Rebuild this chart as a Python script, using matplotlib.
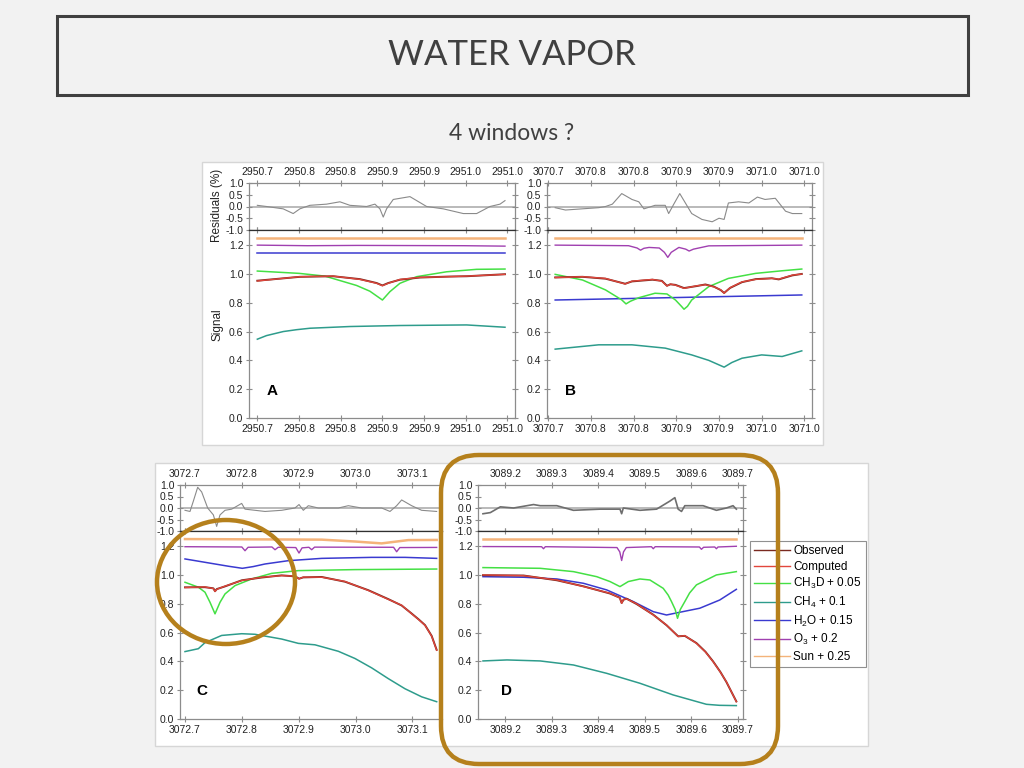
import matplotlib
matplotlib.use('Agg')
import matplotlib.pyplot as plt
from matplotlib.patches import Rectangle, Ellipse, FancyBboxPatch
from matplotlib.ticker import FixedLocator, FixedFormatter, FormatStrFormatter

plt.rcParams['font.family'] = ['Liberation Sans', 'DejaVu Sans']
plt.rcParams['mathtext.fontset'] = 'custom'
plt.rcParams['mathtext.rm'] = 'Liberation Sans'
plt.rcParams['axes.unicode_minus'] = False

# ---------------- 数据 ----------------
# 窗口 A
A_TICKS = [2950.70, 2950.75, 2950.80, 2950.85, 2950.90, 2950.95, 2951.00]
A_LABELS = ['2950.7', '2950.8', '2950.8', '2950.9', '2950.9', '2951.0', '2951.0']
A_X_SUN = [2950.700, 2950.997]
A_SUN = [1.250, 1.250]
A_X_O3 = [2950.700, 2950.760, 2950.820, 2950.948, 2950.997]
A_O3 = [1.200, 1.196, 1.198, 1.196, 1.193]
A_X_H2O = [2950.700, 2950.997]
A_H2O = [1.142, 1.142]
A_X_CH3D = [2950.700, 2950.750, 2950.781, 2950.819, 2950.835, 2950.850, 2950.859,
            2950.871, 2950.891, 2950.927, 2950.963, 2950.997]
A_CH3D = [1.020, 1.004, 0.985, 0.920, 0.880, 0.819, 0.877, 0.935, 0.981, 1.015, 1.032, 1.034]
A_X_CH4 = [2950.700, 2950.711, 2950.731, 2950.747, 2950.763, 2950.811, 2950.871, 2950.951, 2950.997]
A_CH4 = [0.547, 0.572, 0.600, 0.613, 0.623, 0.635, 0.642, 0.646, 0.630]
A_X_CMP = [2950.700, 2950.751, 2950.791, 2950.823, 2950.843, 2950.850, 2950.857,
           2950.871, 2950.895, 2950.931, 2950.951, 2950.997]
A_CMP = [0.951, 0.981, 0.985, 0.962, 0.935, 0.918, 0.935, 0.962, 0.976, 0.981, 0.985, 0.997]
A_OBS = [0.953, 0.980, 0.984, 0.964, 0.937, 0.920, 0.937, 0.960, 0.975, 0.982, 0.984, 0.998]
A_X_RES = [2950.700, 2950.711, 2950.731, 2950.743, 2950.751, 2950.763, 2950.783, 2950.799,
           2950.811, 2950.831, 2950.841, 2950.847, 2950.851, 2950.855, 2950.863, 2950.883,
           2950.903, 2950.923, 2950.947, 2950.963, 2950.979, 2950.991, 2950.997]
A_RES = [0.05, 0.0, -0.1, -0.3, -0.1, 0.05, 0.1, 0.2, 0.05, 0.0, 0.1, -0.1, -0.45, -0.1,
         0.3, 0.42, 0.0, -0.1, -0.3, -0.3, 0.0, 0.1, 0.25]

# 窗口 B
B_TICKS = [3070.70, 3070.75, 3070.80, 3070.85, 3070.90, 3070.95, 3071.00]
B_LABELS = ['3070.7', '3070.8', '3070.8', '3070.9', '3070.9', '3071.0', '3071.0']
B_X_SUN = [3070.708, 3070.997]
B_SUN = [1.250, 1.250]
B_X_O3 = [3070.708, 3070.794, 3070.804, 3070.808, 3070.812, 3070.818, 3070.830, 3070.836,
          3070.840, 3070.844, 3070.853, 3070.861, 3070.865, 3070.870, 3070.888, 3070.997]
B_O3 = [1.200, 1.196, 1.180, 1.165, 1.178, 1.184, 1.180, 1.150, 1.115, 1.150, 1.184,
        1.172, 1.159, 1.172, 1.195, 1.200]
B_X_H2O = [3070.708, 3070.997]
B_H2O = [0.819, 0.854]
B_X_CH3D = [3070.708, 3070.740, 3070.767, 3070.786, 3070.791, 3070.796, 3070.806, 3070.825,
            3070.839, 3070.849, 3070.856, 3070.859, 3070.863, 3070.868, 3070.888, 3070.911,
            3070.943, 3070.974, 3070.997]
B_CH3D = [0.997, 0.958, 0.889, 0.820, 0.792, 0.810, 0.835, 0.866, 0.861, 0.819, 0.775,
          0.755, 0.775, 0.819, 0.912, 0.969, 1.004, 1.022, 1.034]
B_X_CH4 = [3070.708, 3070.759, 3070.798, 3070.837, 3070.868, 3070.888, 3070.906, 3070.915,
           3070.927, 3070.950, 3070.974, 3070.997]
B_CH4 = [0.478, 0.508, 0.508, 0.485, 0.438, 0.400, 0.353, 0.385, 0.415, 0.438, 0.427, 0.466]
B_X_CMP = [3070.708, 3070.740, 3070.767, 3070.790, 3070.798, 3070.822, 3070.833, 3070.839,
           3070.843, 3070.849, 3070.859, 3070.874, 3070.884, 3070.894, 3070.902, 3070.906,
           3070.913, 3070.927, 3070.943, 3070.962, 3070.970, 3070.986, 3070.997]
B_CMP = [0.974, 0.981, 0.969, 0.930, 0.950, 0.962, 0.950, 0.916, 0.930, 0.922, 0.900, 0.918,
         0.925, 0.910, 0.890, 0.866, 0.905, 0.945, 0.962, 0.969, 0.964, 0.992, 0.999]
B_OBS = [0.976, 0.980, 0.967, 0.932, 0.948, 0.960, 0.952, 0.918, 0.928, 0.924, 0.902, 0.916,
         0.927, 0.912, 0.888, 0.868, 0.903, 0.943, 0.964, 0.970, 0.962, 0.990, 1.000]
B_X_RES = [3070.708, 3070.720, 3070.759, 3070.767, 3070.775, 3070.786, 3070.798, 3070.806,
           3070.812, 3070.825, 3070.837, 3070.841, 3070.847, 3070.854, 3070.868, 3070.880,
           3070.892, 3070.900, 3070.906, 3070.911, 3070.923, 3070.935, 3070.945, 3070.954,
           3070.966, 3070.978, 3070.986, 3070.997]
B_RES = [-0.05, -0.15, -0.05, 0.0, 0.1, 0.55, 0.3, 0.2, -0.1, 0.05, 0.05, -0.3, 0.1, 0.55,
         -0.3, -0.55, -0.65, -0.5, -0.55, 0.15, 0.2, 0.15, 0.4, 0.3, 0.35, -0.2, -0.3, -0.3]

# 窗口 C
C_TICKS = [3072.7, 3072.8, 3072.9, 3073.0, 3073.1]
C_LABELS = ['3072.7', '3072.8', '3072.9', '3073.0', '3073.1']
C_X_SUN = [3072.700, 3072.9405, 3072.9991, 3073.0460, 3073.0930, 3073.1428]
C_SUN = [1.249, 1.245, 1.232, 1.219, 1.242, 1.243]
C_X_O3 = [3072.700, 3072.800, 3072.8056, 3072.811, 3072.853, 3072.8584, 3072.864, 3072.895,
          3072.9006, 3072.906, 3072.918, 3072.9229, 3072.928, 3073.067, 3073.0724, 3073.078,
          3073.1428]
C_O3 = [1.196, 1.194, 1.168, 1.192, 1.194, 1.175, 1.192, 1.190, 1.152, 1.188, 1.192, 1.175,
        1.193, 1.192, 1.161, 1.190, 1.191]
C_X_H2O = [3072.700, 3072.7528, 3072.777, 3072.8009, 3072.820, 3072.8408, 3072.8818,
           3072.9405, 3073.0284, 3073.0871, 3073.1428]
C_H2O = [1.111, 1.076, 1.060, 1.046, 1.058, 1.076, 1.099, 1.115, 1.122, 1.122, 1.115]
C_X_CH3D = [3072.700, 3072.7235, 3072.7352, 3072.7440, 3072.7528, 3072.7616, 3072.7704,
            3072.7880, 3072.8173, 3072.8525, 3072.8994, 3072.9991, 3073.1428]
C_CH3D = [0.949, 0.915, 0.880, 0.810, 0.730, 0.810, 0.868, 0.926, 0.972, 1.011, 1.030, 1.037, 1.041]
C_X_CH4 = [3072.700, 3072.7235, 3072.7352, 3072.7645, 3072.7997, 3072.8232, 3072.8701,
           3072.8994, 3072.9287, 3072.9698, 3072.9991, 3073.0284, 3073.0578, 3073.0871,
           3073.1164, 3073.1428]
C_CH4 = [0.468, 0.488, 0.530, 0.580, 0.592, 0.588, 0.555, 0.525, 0.515, 0.470, 0.420, 0.355,
         0.280, 0.210, 0.154, 0.120]
C_X_CMP = [3072.700, 3072.735, 3072.750, 3072.7528, 3072.756, 3072.770, 3072.800, 3072.835,
           3072.870, 3072.894, 3072.9006, 3072.908, 3072.9405, 3072.9815, 3073.0226, 3073.0578,
           3073.0812, 3073.0988, 3073.1110, 3073.1223, 3073.1340, 3073.1428]
C_CMP = [0.912, 0.917, 0.905, 0.885, 0.900, 0.922, 0.961, 0.984, 0.995, 0.992, 0.972, 0.985,
         0.984, 0.955, 0.892, 0.830, 0.790, 0.730, 0.690, 0.650, 0.575, 0.477]
C_OBS = [0.914, 0.915, 0.907, 0.887, 0.902, 0.920, 0.963, 0.982, 0.997, 0.990, 0.974, 0.983,
         0.986, 0.953, 0.894, 0.832, 0.788, 0.732, 0.692, 0.652, 0.577, 0.480]
C_X_RES = [3072.700, 3072.7088, 3072.7147, 3072.7223, 3072.7293, 3072.7399, 3072.7499,
           3072.7557, 3072.7616, 3072.7704, 3072.7821, 3072.7997, 3072.8056, 3072.8232,
           3072.8408, 3072.8701, 3072.8935, 3072.9006, 3072.9082, 3072.9170, 3072.9346,
           3072.9698, 3072.9874, 3073.0108, 3073.0460, 3073.0607, 3073.0724, 3073.0812,
           3073.0988, 3073.1164, 3073.1428]
C_RES = [-0.1, -0.15, 0.3, 0.9, 0.7, 0.0, -0.3, -0.8, -0.3, -0.1, -0.05, 0.2, -0.05, -0.1,
         -0.15, -0.1, 0.0, 0.15, -0.1, 0.1, 0.0, 0.0, 0.1, 0.0, 0.0, -0.15, 0.1, 0.35, 0.1,
         -0.1, -0.15]

# 窗口 D
D_TICKS = [3089.2, 3089.3, 3089.4, 3089.5, 3089.6, 3089.7]
D_LABELS = ['3089.2', '3089.3', '3089.4', '3089.5', '3089.6', '3089.7']
D_X_SUN = [3089.1521, 3089.6964]
D_SUN = [1.250, 1.250]
D_X_O3 = [3089.1521, 3089.2780, 3089.2821, 3089.2860, 3089.4400, 3089.4460, 3089.4500,
          3089.4540, 3089.4600, 3089.5140, 3089.5179, 3089.5220, 3089.6170, 3089.6214,
          3089.6260, 3089.6500, 3089.6536, 3089.6570, 3089.6964]
D_O3 = [1.197, 1.196, 1.182, 1.196, 1.190, 1.160, 1.100, 1.160, 1.190, 1.196, 1.182, 1.196,
        1.194, 1.178, 1.192, 1.194, 1.182, 1.194, 1.199]
D_X_CH3D = [3089.1521, 3089.2750, 3089.3464, 3089.3964, 3089.4250, 3089.4464, 3089.4643,
            3089.4893, 3089.5107, 3089.5393, 3089.5500, 3089.5571, 3089.5650, 3089.5700,
            3089.5760, 3089.5857, 3089.5960, 3089.6107, 3089.6536, 3089.6964]
D_CH3D = [1.051, 1.046, 1.023, 0.988, 0.954, 0.919, 0.954, 0.972, 0.965, 0.907, 0.860, 0.815,
          0.760, 0.699, 0.760, 0.815, 0.875, 0.931, 1.000, 1.023]
D_X_H2O = [3089.1521, 3089.2393, 3089.3107, 3089.3679, 3089.4179, 3089.4750, 3089.5179,
           3089.5464, 3089.5750, 3089.6179, 3089.6607, 3089.6964]
D_H2O = [0.988, 0.984, 0.972, 0.942, 0.896, 0.815, 0.745, 0.722, 0.741, 0.769, 0.826, 0.900]
D_X_CH4 = [3089.1521, 3089.2036, 3089.2750, 3089.3464, 3089.4179, 3089.4893, 3089.5607,
           3089.6321, 3089.6600, 3089.6964]
D_CH4 = [0.403, 0.410, 0.403, 0.375, 0.317, 0.248, 0.167, 0.102, 0.095, 0.093]
D_X_CMP = [3089.1521, 3089.2393, 3089.3107, 3089.3679, 3089.4250, 3089.4460, 3089.4500,
           3089.4540, 3089.4607, 3089.4821, 3089.5179, 3089.5464, 3089.5714, 3089.5857,
           3089.6107, 3089.6300, 3089.6464, 3089.6620, 3089.6750, 3089.6964]
D_CMP = [1.000, 0.995, 0.965, 0.919, 0.873, 0.840, 0.803, 0.830, 0.833, 0.800, 0.722, 0.653,
         0.572, 0.579, 0.525, 0.465, 0.398, 0.325, 0.259, 0.120]
D_OBS = [0.998, 0.996, 0.963, 0.921, 0.871, 0.842, 0.805, 0.828, 0.835, 0.798, 0.724, 0.651,
         0.574, 0.577, 0.527, 0.467, 0.400, 0.327, 0.257, 0.122]
D_X_RES = [3089.1521, 3089.1679, 3089.1893, 3089.2179, 3089.2464, 3089.2607, 3089.2750,
           3089.3107, 3089.3464, 3089.4036, 3089.4464, 3089.4500, 3089.4536, 3089.4893,
           3089.5250, 3089.5536, 3089.5643, 3089.5714, 3089.5786, 3089.5857, 3089.6250,
           3089.6536, 3089.6750, 3089.6893, 3089.6964]
D_RES = [-0.25, -0.2, 0.05, 0.0, 0.1, 0.15, 0.1, 0.1, -0.1, -0.05, -0.05, -0.25, 0.0, -0.1,
         -0.05, 0.3, 0.45, -0.05, -0.15, 0.1, 0.1, -0.1, 0.0, 0.1, -0.05]

LEGEND_LABELS = ['Observed', 'Computed', r'CH$_3$D + 0.05', r'CH$_4$ + 0.1',
                 r'H$_2$O + 0.15', r'O$_3$ + 0.2', 'Sun + 0.25']

# ---------------- 样式 ----------------
W, H = 1024, 768
BG = '#f2f2f2'
GOLD = '#b5801c'
SPINE = '#8c8c8c'
C_SUN_LINE = '#f4b37a'
C_O3_LINE = '#a040b0'
C_H2O_LINE = '#3a3ad0'
C_CH3D_LINE = '#44e044'
C_CH4_LINE = '#2e9c8c'
C_OBS_LINE = '#7a2a20'
C_CMP_LINE = '#e2463c'

fig = plt.figure(figsize=(W / 100, H / 100), dpi=100, facecolor=BG)


def px_box(l, t, r, b):
    return [l / W, 1 - b / H, (r - l) / W, (b - t) / H]


def style_axes(ax, xlim, ticks, labels, top_labels):
    ax.set_xlim(xlim)
    ax.xaxis.set_major_locator(FixedLocator(ticks))
    ax.xaxis.set_major_formatter(FixedFormatter(labels))
    ax.yaxis.set_major_formatter(FormatStrFormatter('%.1f'))
    ax.tick_params(direction='inout', length=5, width=0.8, color=SPINE, labelsize=7.5,
                   labelcolor='#222222', pad=1.5, top=True, right=True,
                   labeltop=top_labels, labelbottom=not top_labels)
    for sp in ax.spines.values():
        sp.set_color(SPINE)
        sp.set_linewidth(0.9)


def draw_panel(left, right, top, split, bottom, xlim, ticks, labels, series, res_x, res_y,
               res_color='#8a8a8a', res_lw=0.8, open_right=False):
    ax_r = fig.add_axes(px_box(left, top, right, split))
    ax_s = fig.add_axes(px_box(left, split, right, bottom))
    style_axes(ax_r, xlim, ticks, labels, True)
    style_axes(ax_s, xlim, ticks, labels, False)

    ax_r.set_ylim(-1.0, 1.0)
    ax_r.set_yticks([-1.0, -0.5, 0.0, 0.5, 1.0])
    ax_r.axhline(0.0, color='#b4b4b4', lw=1.3, zorder=1)
    ax_r.plot(res_x, res_y, color=res_color, lw=res_lw, zorder=2)
    ax_r.spines['bottom'].set_color('#303030')

    ax_s.set_ylim(0.0, 1.305)
    ax_s.set_yticks([0.0, 0.2, 0.4, 0.6, 0.8, 1.0, 1.2])
    ax_s.spines['top'].set_color('#303030')

    handles = []
    for x, y, color, lw in series:
        ln, = ax_s.plot(x, y, color=color, lw=lw)
        handles.append(ln)

    if open_right:
        for ax in (ax_r, ax_s):
            ax.spines['right'].set_visible(False)
            ax.tick_params(right=False)
    return handles


def panel_series(xs, obs, xc, cmp_, x3, ch3d, x4, ch4, xh, h2o, xo, o3, xsun, sun):
    # 绘制顺序: Sun, O3, H2O, CH3D, CH4, Observed, Computed
    return [(xsun, sun, C_SUN_LINE, 1.8),
            (xo, o3, C_O3_LINE, 1.0),
            (xh, h2o, C_H2O_LINE, 1.1),
            (x3, ch3d, C_CH3D_LINE, 1.1),
            (x4, ch4, C_CH4_LINE, 1.1),
            (xs, obs, C_OBS_LINE, 1.4),
            (xc, cmp_, C_CMP_LINE, 0.9)]


# 幻灯片标题
fig.patches.append(Rectangle((57 / W, 1 - 95 / H), (968 - 57) / W, (95 - 16) / H,
                             transform=fig.transFigure, fill=False, ec='#404040', lw=2.2))
fig.text(512 / W, 1 - 55 / H, 'WATER VAPOR', ha='center', va='center', fontsize=25,
         family=['Lato', 'DejaVu Sans'], color='#404040')
fig.text(512 / W, 1 - 134 / H, '4 windows ?', ha='center', va='center', fontsize=16.5,
         family=['Lato', 'DejaVu Sans'], color='#404040')

# 图片背景
fig.patches.append(Rectangle((202 / W, 1 - 445 / H), (823 - 202) / W, (445 - 162) / H,
                             transform=fig.transFigure, fc='white', ec='#d6d6d6', lw=1, zorder=-1))
fig.patches.append(Rectangle((155 / W, 1 - 746 / H), (868 - 155) / W, (746 - 463) / H,
                             transform=fig.transFigure, fc='white', ec='#d6d6d6', lw=1, zorder=-1))

# 四个窗口
draw_panel(249, 515, 183, 230, 418, (2950.690, 2951.009), A_TICKS, A_LABELS,
           panel_series(A_X_CMP, A_OBS, A_X_CMP, A_CMP, A_X_CH3D, A_CH3D, A_X_CH4, A_CH4,
                        A_X_H2O, A_H2O, A_X_O3, A_O3, A_X_SUN, A_SUN),
           A_X_RES, A_RES)
draw_panel(547, 812, 183, 230, 418, (3070.6984, 3071.009), B_TICKS, B_LABELS,
           panel_series(B_X_CMP, B_OBS, B_X_CMP, B_CMP, B_X_CH3D, B_CH3D, B_X_CH4, B_CH4,
                        B_X_H2O, B_H2O, B_X_O3, B_O3, B_X_SUN, B_SUN),
           B_X_RES, B_RES)
draw_panel(180, 442, 485, 531, 719, (3072.6912, 3073.1522), C_TICKS, C_LABELS,
           panel_series(C_X_CMP, C_OBS, C_X_CMP, C_CMP, C_X_CH3D, C_CH3D, C_X_CH4, C_CH4,
                        C_X_H2O, C_H2O, C_X_O3, C_O3, C_X_SUN, C_SUN),
           C_X_RES, C_RES, open_right=True)
d_handles = draw_panel(478, 743, 485, 531, 719, (3089.1414, 3089.7107), D_TICKS, D_LABELS,
                       panel_series(D_X_CMP, D_OBS, D_X_CMP, D_CMP, D_X_CH3D, D_CH3D, D_X_CH4,
                                    D_CH4, D_X_H2O, D_H2O, D_X_O3, D_O3, D_X_SUN, D_SUN),
                       D_X_RES, D_RES, res_color='#6e6e6e', res_lw=1.2)

# 面板字母与轴标题
for letter, (px, py) in zip('ABCD', [(272, 391), (571, 391), (202, 691), (507, 691)]):
    fig.text(px / W, 1 - py / H, letter, ha='center', va='center', fontsize=11,
             fontweight='bold', color='black')
fig.text(217 / W, 1 - 205 / H, 'Residuals (%)', rotation=90, ha='center', va='center',
         fontsize=8.5, color='#222222')
fig.text(217 / W, 1 - 325 / H, 'Signal', rotation=90, ha='center', va='center',
         fontsize=8.5, color='#222222')

# 图例 (顺序: Observed, Computed, CH3D, CH4, H2O, O3, Sun)
order = [5, 6, 3, 4, 2, 1, 0]
leg = fig.legend([d_handles[i] for i in order], LEGEND_LABELS, loc='upper left',
                 bbox_to_anchor=(750 / W, 1 - 541 / H), frameon=True, fancybox=False,
                 edgecolor='#909090', framealpha=1, fontsize=8.5, handlelength=3.0,
                 handletextpad=0.3, labelspacing=0.3, borderpad=0.35, borderaxespad=0)
leg.get_frame().set_linewidth(0.8)
leg.set_zorder(5)
for ln in leg.get_lines():
    ln.set_linewidth(1.0)

# 金色圈注
fig.add_artist(Ellipse((2.26, (768 - 582) / 100), 1.38, 1.24, transform=fig.dpi_scale_trans,
                       fill=False, ec=GOLD, lw=3.2, zorder=10))
fig.add_artist(FancyBboxPatch((4.41, 0.04), 3.37, 3.09, transform=fig.dpi_scale_trans,
                              boxstyle='round,pad=0,rounding_size=0.38', fill=False,
                              ec=GOLD, lw=3.2, zorder=10))

fig.savefig('out.png', dpi=100, facecolor=BG)
